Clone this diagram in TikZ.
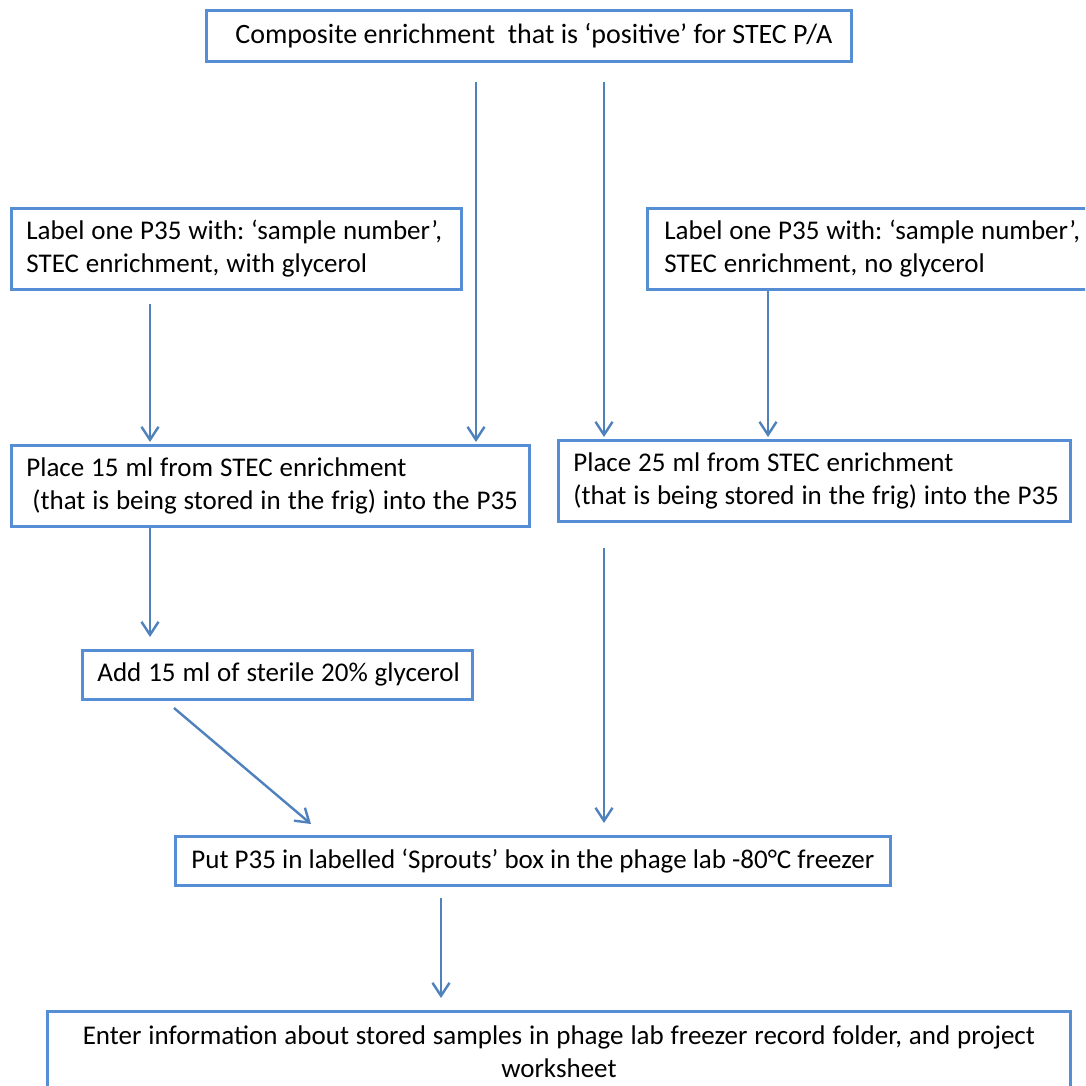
\documentclass[tikz,border=0pt]{standalone}
\usepackage{fontspec}
\setmainfont{Carlito}
\usetikzlibrary{arrows.meta}
\definecolor{arrblue}{HTML}{4F81BD}
\definecolor{boxblue}{HTML}{558ED5}
\newcommand\tightsp{\spaceskip=6.9pt plus 1pt minus 1pt\relax}
\begin{document}
\begin{tikzpicture}[x=1pt,y=-1pt,
  box/.style={draw=boxblue, line width=2.8pt, inner xsep=15pt, inner ysep=0pt,
    anchor=north west, font=\fontsize{27}{33}\selectfont\frenchspacing},
  tight/.style={execute at begin node=\tightsp},
  arr/.style={draw=arrblue, line width=2.4pt,
    -{Straight Barb[length=13pt,width=17pt,line width=2.4pt]}}]
\useasboundingbox (0,0) rectangle (1085,1086);
\clip (0,0) rectangle (1085,1086);
\fill[white] (0,0) rectangle (1085,1086);

\node[box, minimum width=645pt, minimum height=51pt, align=center,
  font=\fontsize{28}{33}\selectfont\frenchspacing] (top) at (205,9)
  {\hspace*{10pt}Composite enrichment\ \ that is ‘positive’ for STEC P/A};
\node[box, tight, text width=420pt, minimum height=81pt, align=left] (l1) at (10,207)
  {\mbox{Label one P35 with: ‘sample number’,}\\\mbox{STEC enrichment, with glycerol}};
\node[box, tight, inner xsep=17pt, text width=426pt, minimum height=81pt, align=left] (r1) at (646,207)
  {\mbox{Label one P35 with: ‘sample number’,}\\\mbox{STEC enrichment, no glycerol}};
\node[box, tight, text width=488pt, minimum height=81pt, align=left] (p15) at (10,444)
  {\mbox{Place 15 ml from STEC enrichment}\\\mbox{\hspace*{6pt}(that is being stored in the frig) into the P35}};
\node[box, tight, text width=482pt, minimum height=81pt, align=left] (p25) at (557,439)
  {\mbox{Place 25 ml from STEC enrichment}\\\mbox{(that is being stored in the frig) into the P35}};
\node[box, tight, text width=360pt, minimum height=49pt, align=left] (add) at (81,649)
  {\mbox{Add 15 ml of sterile 20\% glycerol}};
\node[box, minimum width=715pt, minimum height=49pt, align=center] (put) at (174,835)
  {Put P35 in labelled ‘Sprouts’ box in the phage lab -80°C freezer};
\node[box, tight, text width=993pt, minimum height=80pt, align=center] (enter) at (46,1010)
  {\mbox{Enter information about stored samples in phage lab freezer record folder, and project}\\worksheet};

\coordinate (xa) at (476,0);
\coordinate (xb) at (604,0);
\coordinate (xc) at (150,0);
\coordinate (xd) at (768,0);
\coordinate (xe) at (441,0);
\coordinate (da) at (174,708);
\coordinate (db) at (311,824);

\draw[arr, shorten <=19pt, shorten >=2pt] (top.south -| xa) -- (p15.north -| xa);
\draw[arr, shorten <=19pt, shorten >=2pt] (top.south -| xb) -- (p25.north -| xb);
\draw[arr, shorten <=13pt, shorten >=2pt] (l1.south -| xc) -- (p15.north -| xc);
\draw[arr, shorten >=2pt] (r1.south -| xd) -- (p25.north -| xd);
\draw[arr, shorten >=12pt] (p15.south -| xc) -- (add.north -| xc);
\draw[arr] (da) -- (db);
\draw[arr, shorten <=25pt, shorten >=12pt] (p25.south -| xb) -- (put.north -| xb);
\draw[arr, shorten <=11pt, shorten >=12pt] (put.south -| xe) -- (enter.north -| xe);
\end{tikzpicture}
\end{document}
